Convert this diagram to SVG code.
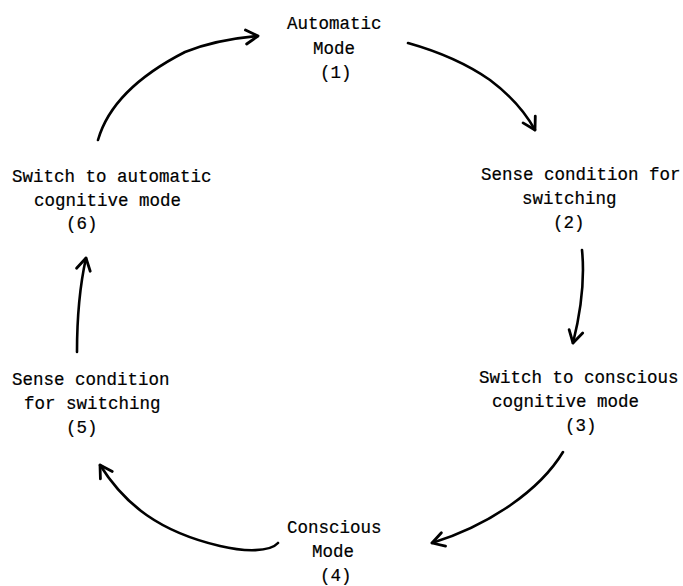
<svg xmlns="http://www.w3.org/2000/svg" width="683" height="586" viewBox="0 0 683 586">
  <style>
    .lbl { font-family: "Liberation Mono", "Courier New", monospace; font-size: 17.5px; fill: #000; stroke: #000; stroke-width: 0.2; }
    .conn { fill: none; stroke: #000; stroke-width: 2.6; stroke-linecap: round; stroke-linejoin: round; }
  </style>
  <defs>
    <marker id="head" markerUnits="userSpaceOnUse" markerWidth="24" markerHeight="24" viewBox="-14 -12 18 24" refX="0" refY="0" orient="auto">
      <path d="M-12,-7 L0,0 L-12,7" fill="none" stroke="#000" stroke-width="2.8" stroke-linecap="round" stroke-linejoin="round"/>
    </marker>
  </defs>
  <rect width="683" height="586" fill="#fff"/>

  <g id="node1">
    <text class="lbl" x="287" y="29">Automatic</text>
    <text class="lbl" x="313" y="54">Mode</text>
    <text class="lbl" x="320" y="78">(1)</text>
  </g>
  <g id="node2">
    <text class="lbl" x="481" y="180">Sense condition for</text>
    <text class="lbl" x="522" y="204">switching</text>
    <text class="lbl" x="553" y="228">(2)</text>
  </g>
  <g id="node3">
    <text class="lbl" x="479" y="383">Switch to conscious</text>
    <text class="lbl" x="492" y="407">cognitive mode</text>
    <text class="lbl" x="565" y="431">(3)</text>
  </g>
  <g id="node4">
    <text class="lbl" x="287" y="533">Conscious</text>
    <text class="lbl" x="312" y="557">Mode</text>
    <text class="lbl" x="320" y="581">(4)</text>
  </g>
  <g id="node5">
    <text class="lbl" x="12" y="385">Sense condition</text>
    <text class="lbl" x="24" y="409">for switching</text>
    <text class="lbl" x="66" y="433">(5)</text>
  </g>
  <g id="node6">
    <text class="lbl" x="12" y="182">Switch to automatic</text>
    <text class="lbl" x="34" y="206">cognitive mode</text>
    <text class="lbl" x="66" y="229">(6)</text>
  </g>

  <g id="connectors">
    <path class="conn" marker-end="url(#head)" d="M98,140 C108,105 140,75 185,52 C210,42 235,38 258,36"/>
    <path class="conn" marker-end="url(#head)" d="M408,43 C440,52 470,66 490,80 C510,95 525,112 535,130"/>
    <path class="conn" marker-end="url(#head)" d="M582,250 C585,280 580,315 573,343"/>
    <path class="conn" marker-end="url(#head)" d="M563,452 C540,490 490,525 432,543"/>
    <path class="conn" marker-end="url(#head)" d="M278,543 C270,552 245,552 220,546 C160,532 125,505 100,465"/>
    <path class="conn" marker-end="url(#head)" d="M77,352 C77,320 80,285 86,258"/>
  </g>
</svg>
